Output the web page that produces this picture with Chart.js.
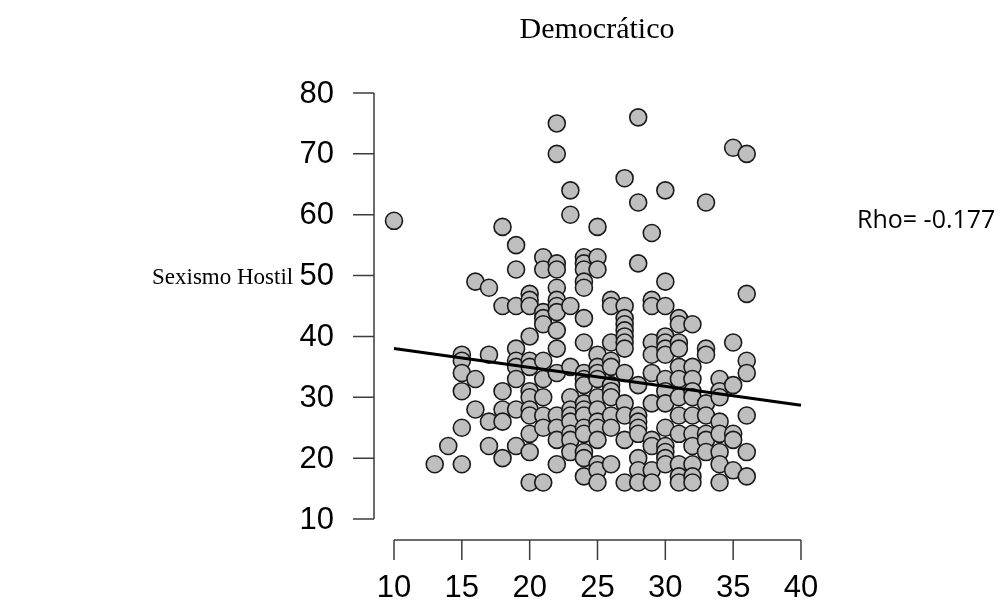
<!DOCTYPE html>
<html>
<head>
<meta charset="utf-8">
<script src="https://cdn.jsdelivr.net/npm/chart.js"></script>
<style>
  body { margin: 0; background: #fff; }
  #wrap { width: 1002px; height: 610px; position: relative; }
</style>
</head>
<body>
<div id="wrap"><canvas id="chart" width="1002" height="610"></canvas></div>
<script>
// x score of each column and the y scores sitting in it
const xColumns = [10, 13, 14, 15, 16, 17, 18, 19, 20, 21, 22, 23, 24, 25, 26, 27, 28, 29, 30, 31, 32, 33, 34, 35, 36];
const yColumns = [
  [59],
  [19],
  [22],
  [37, 36, 34, 31, 25, 19],
  [49, 33, 28],
  [48, 37, 26, 22],
  [58, 45, 31, 28, 26, 20],
  [55, 51, 45, 38, 36, 35, 33, 28, 22],
  [47, 46, 45, 40, 36, 35, 31, 30, 28, 27, 24, 21, 16],
  [53, 51, 44, 43, 42, 36, 33, 30, 27, 25, 16],
  [75, 70, 52, 51, 48, 46, 45, 44, 41, 38, 34, 27, 25, 23, 19],
  [64, 60, 45, 35, 30, 28, 27, 26, 24, 23, 21],
  [53, 52, 51, 49, 48, 43, 39, 34, 33, 32, 29, 28, 27, 25, 24, 21, 20, 17],
  [58, 53, 51, 37, 35, 34, 33, 30, 28, 26, 25, 23, 19, 18, 16],
  [46, 45, 39, 36, 35, 32, 31, 30, 27, 25, 19],
  [66, 45, 43, 42, 41, 40, 39, 38, 34, 29, 27, 23, 16],
  [76, 62, 52, 32, 27, 26, 25, 24, 20, 18, 16],
  [57, 46, 45, 39, 37, 34, 29, 23, 22, 18, 16],
  [64, 49, 45, 40, 39, 38, 37, 33, 31, 29, 25, 22, 21, 20, 19],
  [43, 42, 39, 38, 35, 33, 30, 27, 24, 19, 17, 16],
  [42, 35, 33, 31, 30, 27, 24, 22, 19, 17, 16],
  [62, 38, 37, 29, 27, 24, 23, 21],
  [33, 31, 30, 26, 24, 21, 19, 16],
  [71, 39, 32, 24, 23, 18],
  [70, 47, 36, 34, 27, 21, 17]
];
// fitted line end points
const fitX = [10, 40];
const fitY = [38, 28.7];
const xTicks = [10, 15, 20, 25, 30, 35, 40];
const yTicks = [10, 20, 30, 40, 50, 60, 70, 80];
const titleText = 'Democrático';
const yTitleText = 'Sexismo Hostil';
const rhoText = 'Rho= -0.177';

const points = [];
xColumns.forEach((xv, i) => {
  yColumns[i].forEach(yv => points.push({x: xv, y: yv}));
});
const fitData = fitX.map((xv, i) => ({x: xv, y: fitY[i]}));

// R style detached axes and the texts around the plot
const rAxes = {
  id: 'rAxes',
  afterDraw(chart) {
    const ctx = chart.ctx;
    const xs = chart.scales.x, ys = chart.scales.y;
    ctx.save();
    ctx.strokeStyle = '#3c3c3c';
    ctx.lineWidth = 1.5;
    ctx.fillStyle = '#000';

    // y axis
    const yAxisX = 374;
    ctx.beginPath();
    ctx.moveTo(yAxisX, ys.getPixelForValue(yTicks[0]));
    ctx.lineTo(yAxisX, ys.getPixelForValue(yTicks[yTicks.length - 1]));
    yTicks.forEach(t => {
      const py = ys.getPixelForValue(t);
      ctx.moveTo(yAxisX, py);
      ctx.lineTo(yAxisX - 21, py);
    });
    ctx.stroke();
    ctx.font = '31px "Liberation Sans", Arial, sans-serif';
    ctx.textAlign = 'right';
    ctx.textBaseline = 'middle';
    yTicks.forEach(t => ctx.fillText(String(t), 334, ys.getPixelForValue(t) + 1));

    // x axis
    const xAxisY = 540;
    ctx.beginPath();
    ctx.moveTo(xs.getPixelForValue(xTicks[0]), xAxisY);
    ctx.lineTo(xs.getPixelForValue(xTicks[xTicks.length - 1]), xAxisY);
    xTicks.forEach(t => {
      const px = xs.getPixelForValue(t);
      ctx.moveTo(px, xAxisY);
      ctx.lineTo(px, xAxisY + 20);
    });
    ctx.stroke();
    ctx.textAlign = 'center';
    xTicks.forEach(t => ctx.fillText(String(t), xs.getPixelForValue(t), 588));

    // texts
    ctx.font = '30px "Liberation Serif", "Times New Roman", serif';
    ctx.textBaseline = 'alphabetic';
    ctx.fillText(titleText, 597, 38);
    ctx.font = '23px "Liberation Serif", "Times New Roman", serif';
    ctx.textAlign = 'left';
    ctx.fillText(yTitleText, 152, 284);
    ctx.font = '25px "Open Sans", sans-serif';
    ctx.fillText(rhoText, 857, 228);
    ctx.restore();
  }
};

new Chart(document.getElementById('chart').getContext('2d'), {
  type: 'scatter',
  data: {
    datasets: [
      {
        type: 'line',
        data: fitData,
        borderColor: '#000',
        borderWidth: 3,
        pointRadius: 0,
        fill: false,
        clip: false,
        order: 1
      },
      {
        data: points,
        backgroundColor: '#bebebe',
        borderColor: '#1a1a1a',
        borderWidth: 1.6,
        pointRadius: 8.5,
        pointHoverRadius: 8.5,
        clip: false,
        order: 2
      }
    ]
  },
  options: {
    responsive: false,
    animation: false,
    layout: { padding: { left: 394, right: 201, top: 93, bottom: 91 } },
    plugins: { legend: { display: false }, tooltip: { enabled: false } },
    scales: {
      x: { type: 'linear', min: 10, max: 40, display: false },
      y: { type: 'linear', min: 10, max: 80, display: false }
    }
  },
  plugins: [rAxes]
});
</script>
</body>
</html>
